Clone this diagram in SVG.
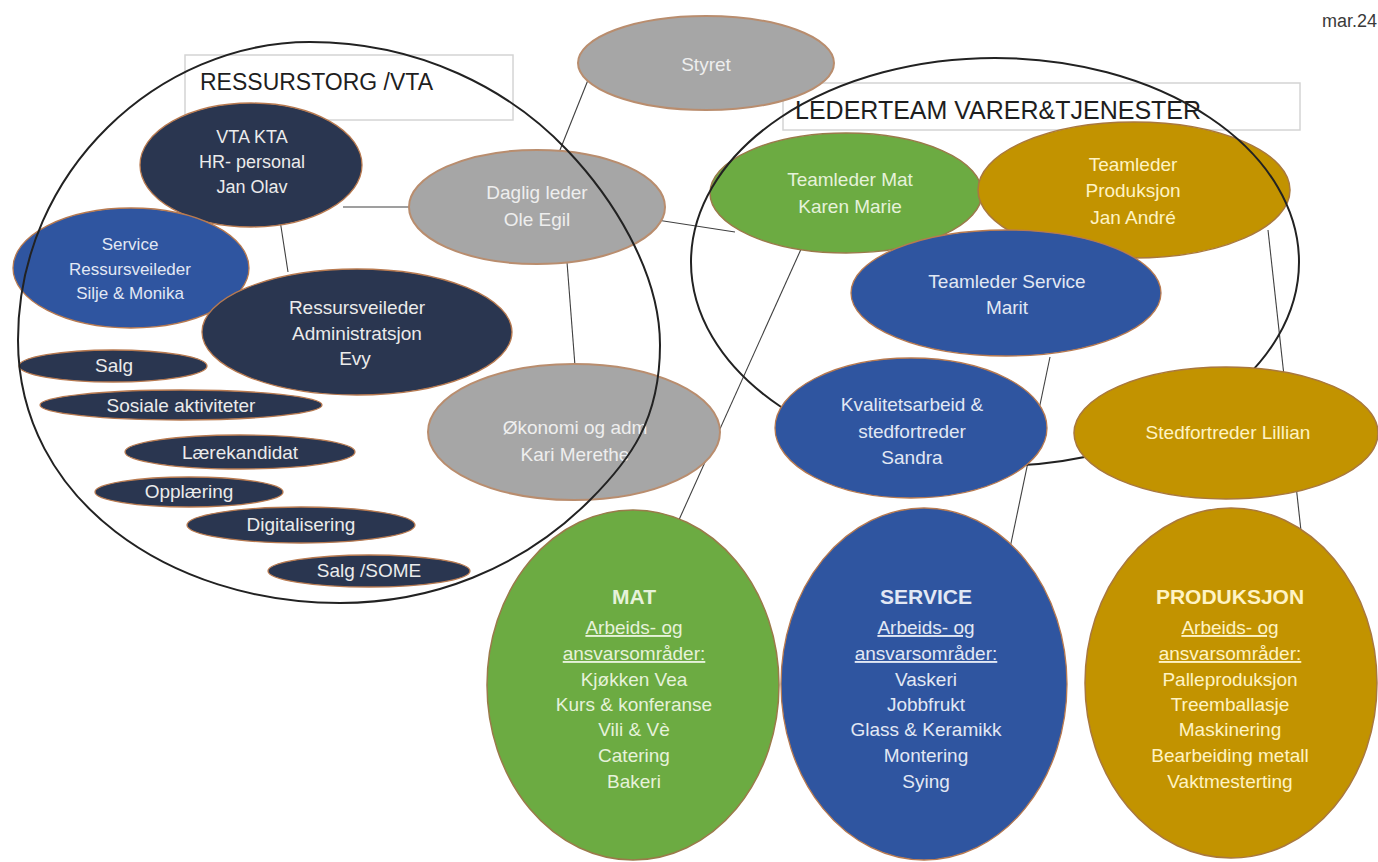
<svg xmlns="http://www.w3.org/2000/svg" width="1378" height="862" viewBox="0 0 1378 862">
<style>
text{font-family:"Liberation Sans",Arial,sans-serif;text-anchor:middle;font-size:19px}
.nv{fill:#2a3650;stroke:#b87a50;stroke-width:1.3}
.bl{fill:#2f55a0;stroke:#b87a50;stroke-width:1.3}
.gr{fill:#a6a6a6;stroke:#b98d6e;stroke-width:2}
.gn{fill:#6cab42;stroke:#9a7a4a;stroke-width:1.5}
.gd{fill:#c29300;stroke:#a9783e;stroke-width:1.5}
.tw{fill:#ebebeb}
.tb{fill:#e2e8f4}
.tg{fill:#eeeeee}
.tn{fill:#e6f2da}
.ty{fill:#fff3c4}
.hd{font-weight:bold;font-size:21px}
.u{text-decoration:underline}
.box{fill:#ffffff;stroke:#d4d4d4;stroke-width:1.5}
.ttl{text-anchor:start;fill:#1e1e1e;font-size:23px}
.con line{stroke:#404040;stroke-width:1.1}
.ring{fill:none;stroke:#222222;stroke-width:2}
</style>

<text x="1322" y="27" style="text-anchor:start;font-size:18px;fill:#3a3a3a">mar.24</text>

<g id="title-ressurstorg">
<rect class="box" x="185" y="55" width="328" height="65"/>
<text class="ttl" x="200" y="90">RESSURSTORG /VTA</text>
</g>
<g id="title-lederteam">
<rect class="box" x="783" y="83" width="517" height="47"/>
<text class="ttl" x="795" y="119" style="font-size:25px">LEDERTEAM VARER&amp;TJENESTER</text>
</g>

<g id="connectors" class="con">
<line x1="588" y1="80" x2="556" y2="160"/>
<line x1="343" y1="207" x2="410" y2="207"/>
<line x1="280" y1="220" x2="288" y2="272"/>
<line x1="567" y1="262" x2="575" y2="366"/>
<line x1="657" y1="220" x2="735" y2="232"/>
<line x1="802" y1="247" x2="678" y2="522"/>
<line x1="1050" y1="357" x2="1010" y2="548"/>
<line x1="1268" y1="230" x2="1302" y2="540"/>
</g>

<g id="node-vta">
<ellipse class="nv" cx="251" cy="165" rx="111" ry="62"/>
<text class="tw" x="252" y="143" style="font-size:18px">VTA KTA</text>
<text class="tw" x="252" y="168" style="font-size:18px">HR- personal</text>
<text class="tw" x="252" y="193" style="font-size:18px">Jan Olav</text>
</g>
<g id="node-service-rv">
<ellipse class="bl" cx="131" cy="268" rx="118" ry="60"/>
<text class="tb" x="130" y="250" style="font-size:17px">Service</text>
<text class="tb" x="130" y="275" style="font-size:17px">Ressursveileder</text>
<text class="tb" x="130" y="299" style="font-size:17px">Silje &amp; Monika</text>
</g>
<g id="node-admin">
<ellipse class="nv" cx="357" cy="332" rx="155" ry="63"/>
<text class="tw" x="357" y="314">Ressursveileder</text>
<text class="tw" x="357" y="340">Administratsjon</text>
<text class="tw" x="355" y="365">Evy</text>
</g>
<g id="node-salg">
<ellipse class="nv" cx="113" cy="366" rx="94" ry="16"/>
<text class="tw" x="114" y="372">Salg</text>
</g>
<g id="node-sosiale">
<ellipse class="nv" cx="181" cy="405" rx="141" ry="15"/>
<text class="tw" x="181" y="412">Sosiale aktiviteter</text>
</g>
<g id="node-laerekandidat">
<ellipse class="nv" cx="240" cy="452" rx="115" ry="17"/>
<text class="tw" x="240" y="459">Lærekandidat</text>
</g>
<g id="node-opplaering">
<ellipse class="nv" cx="189" cy="492" rx="94" ry="15"/>
<text class="tw" x="189" y="498">Opplæring</text>
</g>
<g id="node-digitalisering">
<ellipse class="nv" cx="301" cy="525" rx="114" ry="18"/>
<text class="tw" x="301" y="531">Digitalisering</text>
</g>
<g id="node-salg-some">
<ellipse class="nv" cx="369" cy="571" rx="101" ry="16"/>
<text class="tw" x="369" y="577">Salg /SOME</text>
</g>
<g id="node-styret">
<ellipse class="gr" cx="706" cy="63" rx="128" ry="47"/>
<text class="tg" x="706" y="71">Styret</text>
</g>
<g id="node-daglig">
<ellipse class="gr" cx="537" cy="207" rx="128" ry="57"/>
<text class="tg" x="537" y="199">Daglig leder</text>
<text class="tg" x="537" y="226">Ole Egil</text>
</g>
<g id="node-okonomi">
<ellipse class="gr" cx="574" cy="432" rx="146" ry="68"/>
<text class="tg" x="575" y="434">Økonomi og adm</text>
<text class="tg" x="575" y="461">Kari Merethe</text>
</g>

<g id="group-ressurstorg">
<path class="ring" d="M18 340 C18 170 160 42 310 42 C420 42 510 90 567 150 C610 195 660 270 660 345 C660 420 630 460 590 500 C520 570 430 603 340 603 C170 603 18 500 18 340 Z"/>
</g>

<g id="node-tl-mat">
<ellipse class="gn" cx="846" cy="193" rx="136" ry="60"/>
<text class="tn" x="850" y="186">Teamleder Mat</text>
<text class="tn" x="850" y="213">Karen Marie</text>
</g>
<g id="node-tl-produksjon">
<ellipse class="gd" cx="1134" cy="190" rx="156" ry="68"/>
<text class="ty" x="1133" y="171">Teamleder</text>
<text class="ty" x="1133" y="197">Produksjon</text>
<text class="ty" x="1133" y="224">Jan André</text>
</g>
<g id="node-tl-service">
<ellipse class="bl" cx="1006" cy="293" rx="155" ry="63"/>
<text class="tb" x="1007" y="288">Teamleder Service</text>
<text class="tb" x="1007" y="314">Marit</text>
</g>

<g id="group-lederteam">
<ellipse class="ring" cx="995" cy="262" rx="304" ry="204"/>
</g>

<g id="node-kvalitet">
<ellipse class="bl" cx="911" cy="428" rx="136" ry="70"/>
<text class="tb" x="912" y="411">Kvalitetsarbeid &amp;</text>
<text class="tb" x="912" y="438">stedfortreder</text>
<text class="tb" x="912" y="464">Sandra</text>
</g>
<g id="node-stedfortreder">
<ellipse class="gd" cx="1226" cy="433" rx="152" ry="66"/>
<text class="ty" x="1228" y="439">Stedfortreder Lillian</text>
</g>

<g id="node-mat">
<ellipse class="gn" cx="633" cy="685" rx="146" ry="175"/>
<text class="tn hd" x="634" y="604">MAT</text>
<text class="tn u" x="634" y="634">Arbeids- og</text>
<text class="tn u" x="634" y="660">ansvarsområder:</text>
<text class="tn" x="634" y="686">Kjøkken Vea</text>
<text class="tn" x="634" y="711">Kurs &amp; konferanse</text>
<text class="tn" x="634" y="736">Vili &amp; Vè</text>
<text class="tn" x="634" y="762">Catering</text>
<text class="tn" x="634" y="788">Bakeri</text>
</g>
<g id="node-service">
<ellipse class="bl" cx="924" cy="684" rx="143" ry="176"/>
<text class="tb hd" x="926" y="604">SERVICE</text>
<text class="tb u" x="926" y="634">Arbeids- og</text>
<text class="tb u" x="926" y="660">ansvarsområder:</text>
<text class="tb" x="926" y="686">Vaskeri</text>
<text class="tb" x="926" y="711">Jobbfrukt</text>
<text class="tb" x="926" y="736">Glass &amp; Keramikk</text>
<text class="tb" x="926" y="762">Montering</text>
<text class="tb" x="926" y="788">Sying</text>
</g>
<g id="node-produksjon">
<ellipse class="gd" cx="1231" cy="683" rx="146" ry="175"/>
<text class="ty hd" x="1230" y="604">PRODUKSJON</text>
<text class="ty u" x="1230" y="634">Arbeids- og</text>
<text class="ty u" x="1230" y="660">ansvarsområder:</text>
<text class="ty" x="1230" y="686">Palleproduksjon</text>
<text class="ty" x="1230" y="711">Treemballasje</text>
<text class="ty" x="1230" y="736">Maskinering</text>
<text class="ty" x="1230" y="762">Bearbeiding metall</text>
<text class="ty" x="1230" y="788">Vaktmesterting</text>
</g>
</svg>
